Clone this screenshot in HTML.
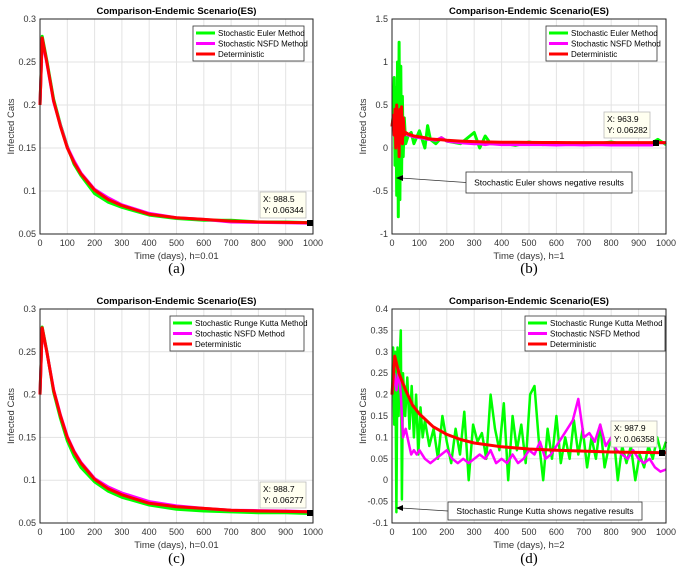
<!DOCTYPE html>
<html><head><meta charset="utf-8"><style>
body{margin:0;background:#fff;}
svg{display:block;font-family:"Liberation Sans",sans-serif;}
</style></head><body>
<svg id="c" width="683" height="582" viewBox="0 0 683 582"></svg>
<script>
// ---- data ----
const detT=[0,8,25,50,75,100,125,150,200,250,300,400,500,600,700,800,900,1000];
const detY=[0.2,0.278,0.25,0.205,0.175,0.15,0.133,0.12,0.101,0.09,0.083,0.073,0.069,0.067,0.065,0.064,0.0635,0.063];
const aEulerY=[0.2,0.28,0.252,0.207,0.177,0.152,0.131,0.118,0.097,0.087,0.081,0.072,0.068,0.066,0.066,0.064,0.064,0.063];
const aNsfdY=[0.2,0.276,0.249,0.204,0.176,0.151,0.135,0.121,0.102,0.092,0.084,0.074,0.069,0.067,0.064,0.0635,0.063,0.0625];
const cRkY=[0.2,0.279,0.251,0.203,0.172,0.146,0.128,0.115,0.098,0.087,0.08,0.071,0.066,0.064,0.063,0.062,0.062,0.061];
const cNsfdY=[0.2,0.277,0.25,0.206,0.176,0.151,0.134,0.121,0.102,0.092,0.085,0.075,0.07,0.067,0.065,0.0645,0.064,0.063];
const bT=[0,5,8,11,14,17,20,23,26,29,32,35,38,41,45,50,60,70,80,100,120,130,140,160,180,200,250,300,320,340,360,400,450,500,550,600,650,700,750,800,850,900,950,970,1000];
const bEulerY=[0.25,0.4,0.82,-0.2,0.7,-0.55,1.0,-0.8,1.23,-0.6,0.95,-0.3,0.6,-0.1,0.35,0.05,0.15,0.18,0.05,0.2,0.0,0.26,0.1,0.05,0.12,0.08,0.05,0.18,0.0,0.14,0.05,0.06,0.03,0.07,0.04,0.05,0.06,0.04,0.05,0.07,0.04,0.05,0.06,0.1,0.04];
const bNsfdY=[0.25,0.3,0.28,0.22,0.3,0.2,0.26,0.18,0.22,0.2,0.25,0.16,0.2,0.17,0.18,0.16,0.15,0.14,0.13,0.12,0.11,0.1,0.1,0.09,0.12,0.08,0.06,0.05,0.05,0.04,0.05,0.04,0.04,0.04,0.04,0.035,0.04,0.035,0.04,0.035,0.035,0.035,0.035,0.06,0.06];
const bDetY=[0.25,0.38,0.15,0.45,0.0,0.5,0.05,0.42,-0.1,0.45,0.1,0.48,0.05,0.35,0.15,0.18,0.16,0.15,0.14,0.13,0.12,0.11,0.105,0.1,0.095,0.09,0.08,0.075,0.072,0.07,0.07,0.068,0.066,0.065,0.064,0.064,0.063,0.063,0.063,0.063,0.063,0.063,0.063,0.063,0.063];
const dDetT=[0,10,25,50,75,100,150,200,250,300,400,500,600,700,800,900,1000];
const dDetY=[0.2,0.29,0.25,0.21,0.175,0.155,0.125,0.107,0.095,0.087,0.078,0.073,0.07,0.068,0.066,0.065,0.064];
const dRkT=[0,4,8,12,16,20,24,28,32,36,40,48,56,64,72,80,88,96,104,112,120,136,152,168,184,200,216,232,248,264,280,296,312,328,344,360,376,392,408,424,440,456,472,488,504,520,536,552,568,584,600,616,632,648,664,680,696,712,728,744,760,776,792,808,824,840,856,872,888,904,920,936,952,968,984,1000];
const dRkY=[0.2,0.31,0.13,0.3,-0.075,0.31,0.15,0.28,0.35,-0.045,0.25,0.15,0.24,0.12,0.22,0.1,0.2,0.06,0.17,0.1,0.14,0.08,0.12,0.05,0.15,0.09,0.04,0.12,0.06,0.16,0.0,0.13,0.09,0.11,0.05,0.2,0.12,0.07,0.18,0.0,0.15,0.07,0.13,0.04,0.2,0.22,0.09,0.0,0.12,0.05,0.15,0.04,0.1,0.05,0.14,0.06,0.12,0.03,0.1,0.05,0.13,0.03,0.08,0.11,0.0,0.08,0.04,0.08,0.0,0.06,0.03,0.08,0.05,0.1,0.06,0.09];
const dNsfdT=[0,8,16,24,32,40,50,60,70,80,90,100,120,140,160,180,200,220,240,260,280,300,320,340,360,380,400,420,440,460,480,500,520,540,560,580,600,620,640,660,680,700,720,740,760,780,800,820,840,860,880,900,920,940,960,980,1000];
const dNsfdY=[0.2,0.25,0.21,0.26,0.2,0.1,0.12,0.09,0.06,0.07,0.06,0.07,0.05,0.04,0.05,0.06,0.07,0.05,0.04,0.05,0.04,0.05,0.06,0.05,0.07,0.04,0.05,0.04,0.06,0.04,0.05,0.07,0.06,0.09,0.05,0.06,0.08,0.1,0.12,0.14,0.19,0.1,0.11,0.09,0.13,0.08,0.1,0.07,0.06,0.05,0.07,0.05,0.04,0.05,0.03,0.02,0.025];
const xTicks=[0,100,200,300,400,500,600,700,800,900,1000];
const aYTicks=[0.05,0.1,0.15,0.2,0.25,0.3];
const bYTicks=[-1,-0.5,0,0.5,1,1.5];
const dYTicks=[-0.1,-0.05,0,0.05,0.1,0.15,0.2,0.25,0.3,0.35,0.4];

const svg=document.getElementById('c');
const NS='http://www.w3.org/2000/svg';
function mk(tag,attrs,parent,text){const e=document.createElementNS(NS,tag);for(const k in attrs)e.setAttribute(k,attrs[k]);if(text!==undefined)e.textContent=text;(parent||svg).appendChild(e);return e;}

function panel(p){
  const g=mk('g',{});
  
  
  const L=p.x0,R=p.x1,T=p.y0,B=p.y1;
  const sx=v=>L+(v-0)/(1000)*(R-L);
  const sy=v=>B-(v-p.ymin)/(p.ymax-p.ymin)*(B-T);
  mk('rect',{x:L,y:T,width:R-L,height:B-T,fill:'#fff'},g);
  // grid
  xTicks.forEach(t=>{const l=mk('line',{x1:sx(t),x2:sx(t),y1:T,y2:B,stroke:'#e3e3e3','stroke-width':1},g);
    const tx=mk('text',{x:sx(t),y:B+12,'font-size':9,'text-anchor':'middle',fill:'#333'},g,String(t));
    });
  p.yt.forEach(t=>{mk('line',{x1:L,x2:R,y1:sy(t),y2:sy(t),stroke:'#e3e3e3','stroke-width':1},g);
    const tx=mk('text',{x:L-4,y:sy(t)+3,'font-size':9,'text-anchor':'end',fill:'#333'},g,String(t));
    });
  // series
  p.series.forEach(s=>{
    const d=s.t.map((t,i)=>(i?'L':'M')+sx(t).toFixed(1)+','+sy(s.y[i]).toFixed(1)).join('');
    const pa=mk('path',{d:d,fill:'none',stroke:s.c,'stroke-width':s.w||3,'stroke-linejoin':'round'},g);
    
  });
  mk('rect',{x:L,y:T,width:R-L,height:B-T,fill:'none',stroke:'#222','stroke-width':1},g);
  const ti=mk('text',{x:(L+R)/2,y:T-5,'font-size':9.5,'font-weight':'bold','text-anchor':'middle'},g,'Comparison-Endemic Scenario(ES)');
  
  const xl=mk('text',{x:(L+R)/2,y:B+25,'font-size':9.5,'text-anchor':'middle',fill:'#333'},g,p.xlabel);
  
  const yl=mk('text',{x:0,y:0,'font-size':9.5,'text-anchor':'middle',fill:'#333',transform:`translate(${L-26},${(T+B)/2}) rotate(-90)`},g,'Infected Cats');
  
  // legend
  const lg=p.legend;
  const lgG=mk('g',{},g);
  mk('rect',{x:lg.x,y:lg.y,width:lg.w,height:35,fill:'#fff',stroke:'#333','stroke-width':0.8},lgG);
  p.series.forEach((s,i)=>{const yy=lg.y+7+i*10.5;
    mk('line',{x1:lg.x+3,x2:lg.x+22,y1:yy,y2:yy,stroke:s.c,'stroke-width':3},lgG);
    const t=mk('text',{x:lg.x+25,y:yy+3,'font-size':8},lgG,s.label);
    });
  // datatip
  const dt=p.tip;const dg=mk('g',{},g);
  mk('rect',{x:dt.x,y:dt.y,width:46,height:26,fill:'#fffff0',stroke:'#bbb','stroke-width':0.8},dg);
  mk('text',{x:dt.x+3,y:dt.y+10,'font-size':8.5},dg,'X: '+dt.X);
  mk('text',{x:dt.x+3,y:dt.y+21,'font-size':8.5},dg,'Y: '+dt.Y);
  mk('rect',{x:dt.mx-3,y:dt.my-3,width:6,height:6,fill:'#000'},dg);
  // annotation
  if(p.ann){const a=p.ann;const ag=mk('g',{},g);
    mk('line',{x1:a.x,y1:a.y+a.h/2,x2:a.ax+5,y2:a.ay,stroke:'#333','stroke-width':0.8},ag);
    mk('path',{d:`M${a.ax},${a.ay}l7,-3l0,6z`,fill:'#000'},ag);
    mk('rect',{x:a.x,y:a.y,width:a.w,height:a.h,fill:'#fff',stroke:'#333','stroke-width':0.8},ag);
    mk('text',{x:a.x+a.w/2,y:a.y+a.h/2+3,'font-size':8.5,'text-anchor':'middle'},ag,a.text);}
  const pl=mk('text',{x:(L+R)/2,y:p.lblY,'font-size':15,'text-anchor':'middle','font-family':'Liberation Serif,serif'},g,p.lbl);
  
}

panel({name:'panel-a',x0:40,x1:313,y0:19,y1:234,ymin:0.05,ymax:0.3,yt:aYTicks,xlabel:'Time (days), h=0.01',lbl:'(a)',lblY:273,
  series:[{t:detT,y:aEulerY,c:'#00ff00',n:'euler-line',label:'Stochastic Euler Method'},
          {t:detT,y:aNsfdY,c:'#ff00ff',n:'nsfd-line',label:'Stochastic NSFD Method'},
          {t:detT,y:detY,c:'#ff0000',n:'deterministic-line',label:'Deterministic'}],
  legend:{x:193,y:26,w:111},tip:{x:260,y:192,X:'988.5',Y:'0.06344',mx:310,my:223}});
panel({name:'panel-b',x0:392,x1:666,y0:19,y1:234,ymin:-1,ymax:1.5,yt:bYTicks,xlabel:'Time (days), h=1',lbl:'(b)',lblY:273,
  series:[{t:bT,y:bEulerY,c:'#00ff00',n:'euler-line',label:'Stochastic Euler Method'},
          {t:bT,y:bNsfdY,c:'#ff00ff',n:'nsfd-line',label:'Stochastic NSFD Method'},
          {t:bT,y:bDetY,c:'#ff0000',n:'deterministic-line',label:'Deterministic'}],
  legend:{x:546,y:26,w:111},tip:{x:604,y:112,X:'963.9',Y:'0.06282',mx:656,my:143},
  ann:{x:466,y:172,w:166,h:21,ax:396,ay:178,text:'Stochastic Euler shows negative results'}});
panel({name:'panel-c',x0:40,x1:313,y0:309,y1:523,ymin:0.05,ymax:0.3,yt:aYTicks,xlabel:'Time (days), h=0.01',lbl:'(c)',lblY:563,
  series:[{t:detT,y:cRkY,c:'#00ff00',n:'runge-kutta-line',label:'Stochastic Runge Kutta Method'},
          {t:detT,y:cNsfdY,c:'#ff00ff',n:'nsfd-line',label:'Stochastic NSFD Method'},
          {t:detT,y:detY,c:'#ff0000',n:'deterministic-line',label:'Deterministic'}],
  legend:{x:170,y:316,w:134},tip:{x:260,y:482,X:'988.7',Y:'0.06277',mx:310,my:513}});
panel({name:'panel-d',x0:392,x1:666,y0:309,y1:523,ymin:-0.1,ymax:0.4,yt:dYTicks,xlabel:'Time (days), h=2',lbl:'(d)',lblY:563,
  series:[{t:dRkT,y:dRkY,c:'#00ff00',n:'runge-kutta-line',label:'Stochastic Runge Kutta Method',w:2.5},
          {t:dNsfdT,y:dNsfdY,c:'#ff00ff',n:'nsfd-line',label:'Stochastic NSFD Method',w:2.5},
          {t:dDetT,y:dDetY,c:'#ff0000',n:'deterministic-line',label:'Deterministic'}],
  legend:{x:525,y:316,w:140},tip:{x:611,y:421,X:'987.9',Y:'0.06358',mx:662,my:453},
  ann:{x:448,y:502,w:194,h:18,ax:396,ay:508,text:'Stochastic Runge Kutta shows negative results'}});
</script>
</body></html>
